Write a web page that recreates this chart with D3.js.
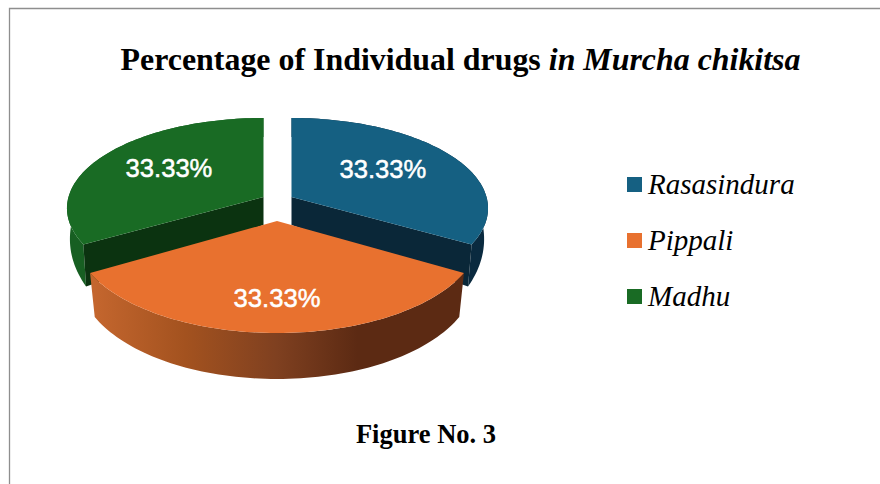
<!DOCTYPE html>
<html>
<head>
<meta charset="utf-8">
<script src="https://cdn.jsdelivr.net/npm/d3@7"></script>
<style>
html,body{margin:0;padding:0;background:#fff;overflow:hidden}
svg{display:block}
</style>
</head>
<body>
<svg id="chart" width="880" height="484"></svg>
<script>
const categories = ["Rasasindura", "Pippali", "Madhu"];
const values = [33.33, 33.33, 33.33];
const topColors = ["#156082", "#E8712F", "#196B24"];
const innerColors = ["#0A2738", null, "#0B3310"];
const outerColors = ["#0A2A3F", "url(#orangeWall)", "#175F22"];
const apexX = [291.5, 277, 263.5];
const apexY = [197, 221, 197];
const radiusX = [195, 201.5, 195];
const radiusY = [88.9, 97.1, 88.9];
const persp = [0.125, 0.133, 0.125];
const bottomShrink = [0.98, 0.975, 0.985];
const depthShift = [-1, 1, -1];
const labelRadius = [0.56, 0.72, 0.58];
const labelDrop = [5, 9, 5];
const titleText = "Percentage of Individual drugs ";
const titleItalic = "in Murcha chikitsa";
const captionText = "Figure No. 3";

const svg = d3.select("#chart");
const depth = d3.scaleLinear().domain([1, 0, -0.5, -1]).range([20, 28, 43, 45]);

const defs = svg.append("defs");
const grad = defs.append("linearGradient").attr("id", "orangeWall")
  .attr("gradientUnits", "userSpaceOnUse")
  .attr("x1", 94).attr("x2", 460).attr("y1", 0).attr("y2", 0);
[[0, "#C4662E"], [0.25, "#A3521F"], [0.5, "#7F4020"], [0.72, "#5C2A13"], [1, "#5C2A13"]]
  .forEach(([o, c]) => grad.append("stop").attr("offset", o).attr("stop-color", c));

// frame
svg.append("path").attr("d", "M9.5,484V8.5H880").attr("fill", "none")
  .attr("stroke", "#8e8e8e").attr("stroke-width", 1.3);

// title
const titleNode = svg.append("text").attr("x", 460.5).attr("y", 70)
  .attr("text-anchor", "middle").attr("font-family", "Liberation Serif")
  .attr("font-size", 31.9).attr("font-weight", "bold").attr("fill", "#000")
  .style("white-space", "pre");
titleNode.append("tspan").text(titleText);
titleNode.append("tspan").attr("font-style", "italic").text(titleItalic);

// pie
const pie = d3.pie().sort(null).value(d => d).startAngle(0).endAngle(2 * Math.PI);
const arcs = pie(values);
const line = d3.line();

function topPoint(i, a, r = 1) {
  const X = Math.sin(a) * r, Y = Math.cos(a) * r, s = 1 / (1 + persp[i] * Y);
  return [apexX[i] + radiusX[i] * s * X, apexY[i] - radiusY[i] * s * Y];
}
function bottomPoint(i, a, r = 1) {
  const p = topPoint(i, a, r), Y = Math.cos(a) * r;
  return [apexX[i] + (p[0] - apexX[i]) * bottomShrink[i], p[1] + depth(Y) + depthShift[i]];
}
function rim(i, d, fn) {
  const n = 80;
  return d3.range(n + 1).map(k => fn(i, d.startAngle + (d.endAngle - d.startAngle) * k / n));
}
function apexBottom(i) { return [apexX[i], apexY[i] + 28]; }

function drawWalls(i) {
  const d = arcs[i];
  // outer wall
  const outer = rim(i, d, topPoint).concat(rim(i, d, bottomPoint).reverse());
  svg.append("path").attr("d", line(outer) + "Z").attr("fill", outerColors[i]);
  // inner wall, the cut face turned toward the viewer
  if (innerColors[i]) {
    const a = i === 0 ? d.endAngle : d.startAngle;
    const inner = [[apexX[i], apexY[i]], topPoint(i, a), bottomPoint(i, a), apexBottom(i)];
    svg.append("path").attr("d", line(inner) + "Z").attr("fill", innerColors[i]);
  }
}
function drawTop(i) {
  const d = arcs[i];
  const pts = [[apexX[i], apexY[i]]].concat(rim(i, d, topPoint));
  svg.append("path").attr("d", line(pts) + "Z").attr("fill", topColors[i]);
}
[0, 2, 1].forEach(i => { drawWalls(i); drawTop(i); });

// value labels
arcs.forEach((d, i) => {
  const p = topPoint(i, (d.startAngle + d.endAngle) / 2, labelRadius[i]);
  svg.append("text").attr("x", p[0]).attr("y", p[1] + labelDrop[i])
    .attr("text-anchor", "middle").attr("font-family", "Liberation Sans")
    .attr("font-size", 25.6).attr("fill", "#fff")
    .attr("stroke", "#fff").attr("stroke-width", 0.5)
    .text(values[i].toFixed(2) + "%");
});

// legend
const legendY = d3.scalePoint().domain(categories).range([177, 289]);
categories.forEach((c, i) => {
  svg.append("rect").attr("x", 627).attr("y", legendY(c)).attr("width", 15).attr("height", 15)
    .attr("fill", topColors[i]);
  svg.append("text").attr("x", 648).attr("y", legendY(c) + 17)
    .attr("font-family", "Liberation Serif").attr("font-style", "italic")
    .attr("font-size", 29).attr("fill", "#000").text(c);
});

// caption
svg.append("text").attr("x", 426).attr("y", 443).attr("text-anchor", "middle")
  .attr("font-family", "Liberation Serif").attr("font-weight", "bold")
  .attr("font-size", 26.5).attr("fill", "#000").text(captionText);
</script>
</body>
</html>
